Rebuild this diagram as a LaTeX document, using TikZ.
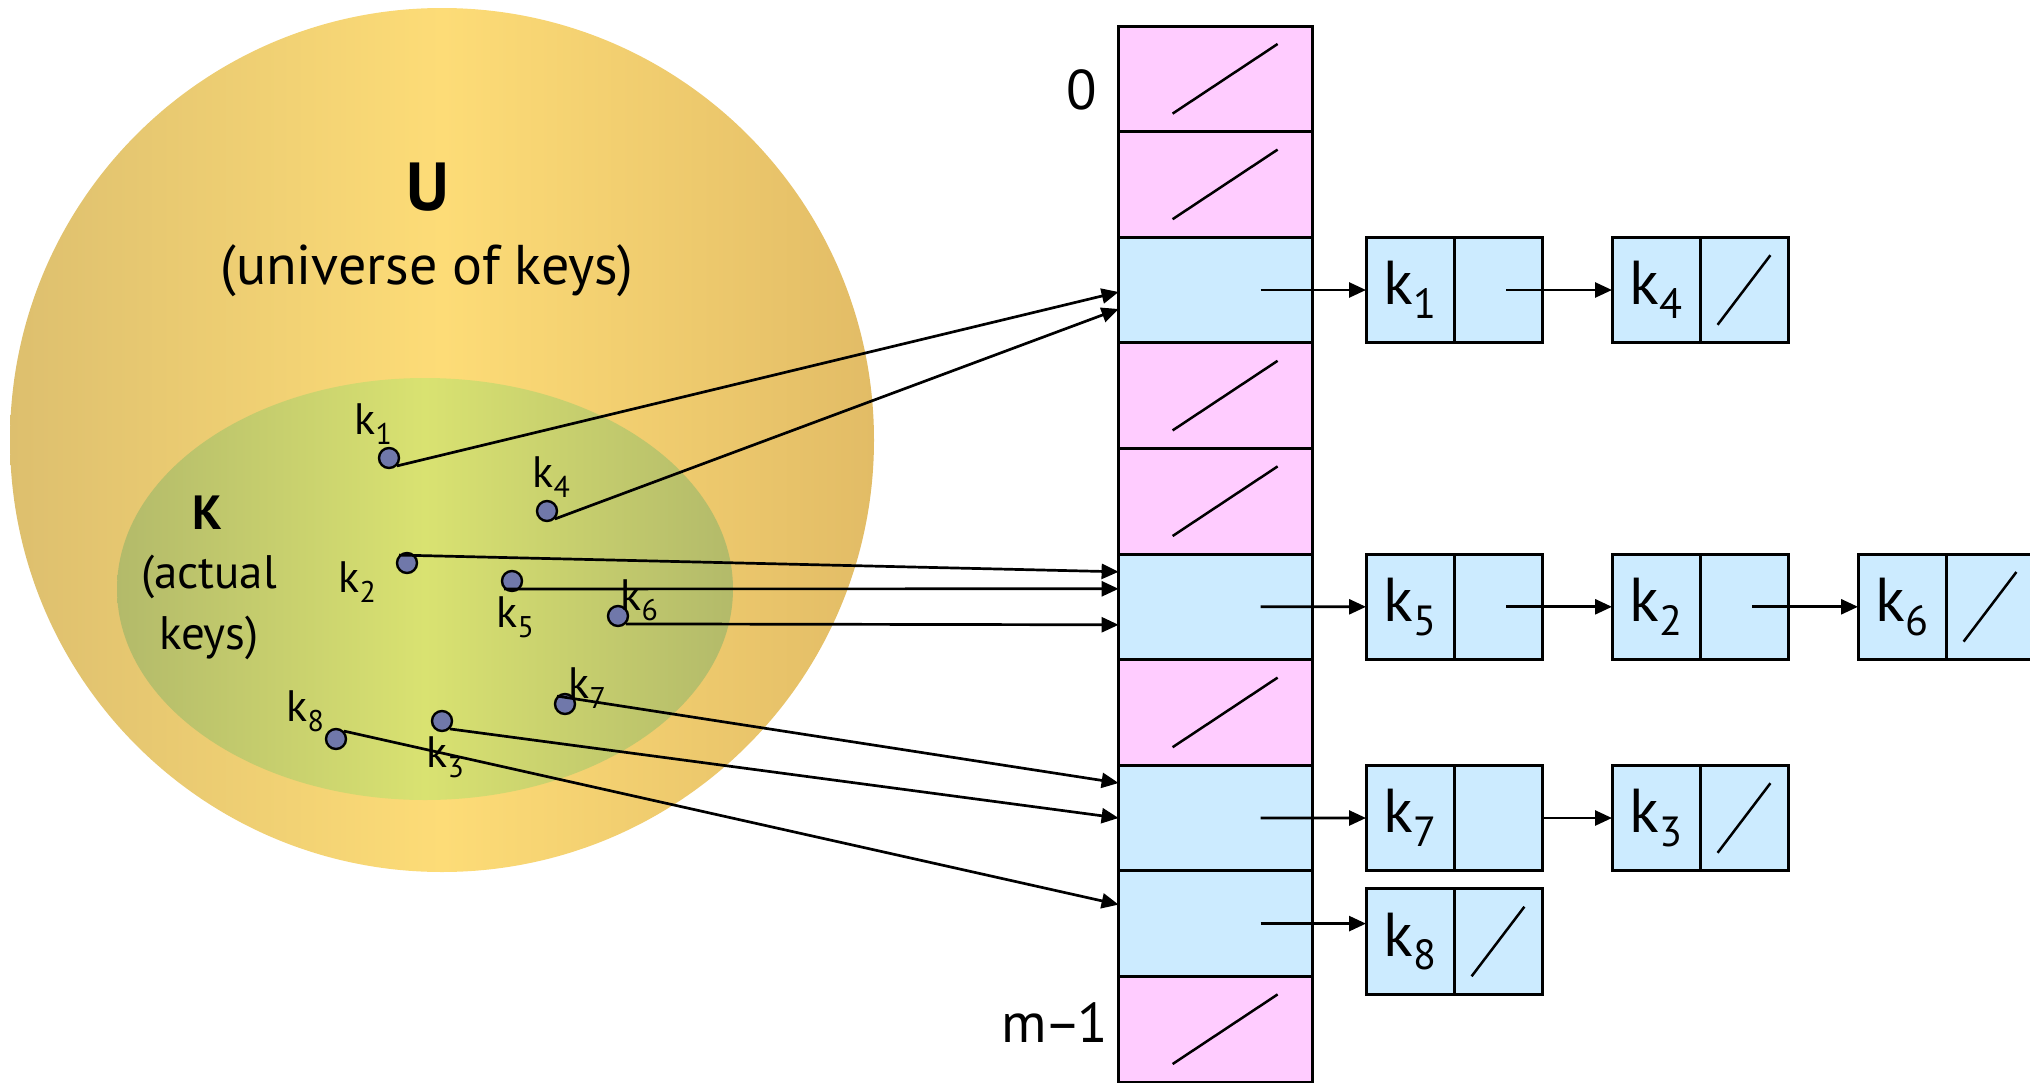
\documentclass[tikz,border=0pt]{standalone}
\usepackage{fontspec}
\setmainfont{PT Sans}
\usepackage{graphicx}
\usetikzlibrary{calc,positioning,arrows.meta}
\definecolor{slotpink}{HTML}{FFCCFF}
\definecolor{slotblue}{HTML}{CCEBFF}
\definecolor{keydot}{HTML}{7078AA}
\definecolor{univdark}{HTML}{DDBF6E}
\definecolor{univlight}{HTML}{FDDC77}
\definecolor{univright}{HTML}{E2BC66}
\definecolor{actdark}{HTML}{B3BA6A}
\definecolor{actlight}{HTML}{D9E271}
\newcommand{\keysub}[1]{k\kern0.01em\raisebox{-0.22em}{\scalebox{0.68}{#1}}}
\tikzset{
  slot/.style={draw,line width=3pt,minimum width=194pt,minimum height=105.6pt,
    inner sep=0pt,outer sep=0pt},
  emptyslot/.style={slot,fill=slotpink,path picture={
    \draw[line width=2.5pt] ($(path picture bounding box.south west)+(54,-18)$)
      -- ($(path picture bounding box.north west)+(159,18)$);}},
  fullslot/.style={slot,fill=slotblue},
  cell/.style={draw,line width=3pt,fill=slotblue,minimum width=88pt,
    minimum height=105.6pt,inner sep=0pt,outer sep=0pt,
    font=\fontsize{62}{66}\selectfont},
  nilcell/.style={cell,path picture={
    \draw[line width=2.5pt] ($(path picture bounding box.south west)+(17.6,-18)$)
      -- ($(path picture bounding box.north west)+(70.4,18)$);}},
  keypt/.style={circle,draw,line width=2.4pt,fill=keydot,minimum size=20pt,
    inner sep=0pt},
  keylbl/.style={inner sep=0pt,font=\fontsize{44}{46}\selectfont},
  link/.style={line width=2.7pt,-{Triangle[length=17pt,width=15pt]}}
}
\begin{document}
\begin{tikzpicture}[x=1pt,y=-1pt]
\useasboundingbox (0,0) rectangle (2030,1082);

\begin{scope}[y=1pt]
\shade[shading=axis,shading angle=90,left color=univdark,right color=univright,
  middle color=univlight] (442,-440) circle [radius=432pt];
\shade[shading=axis,shading angle=90,left color=actdark,right color=actdark,
  middle color=actlight] (425,-589) ellipse [x radius=308pt,y radius=211pt];
\end{scope}

\node[font=\fontsize{68}{72}\selectfont\bfseries] (ulbl) at (428,187) {U};
\node[font=\fontsize{56}{60}\selectfont] (udesc) at (427,271) {(universe of keys)};
\node[font=\fontsize{48}{52}\selectfont\bfseries] (klbl) at (207,513) {K};
\node[font=\fontsize{47}{61}\selectfont,align=center] (kdesc) at (209,607) {(actual\\keys)};

\node[keypt] (dk1) at (389,458) {};
\node[keypt] (dk2) at (407,563) {};
\node[keypt] (dk3) at (442,721) {};
\node[keypt] (dk4) at (547,511) {};
\node[keypt] (dk5) at (512,581) {};
\node[keypt] (dk6) at (618,616) {};
\node[keypt] (dk7) at (565,704) {};
\node[keypt] (dk8) at (336,739) {};

\node[keylbl] (lk1) at (373,424) {\keysub{1}};
\node[keylbl] (lk2) at (357,582) {\keysub{2}};
\node[keylbl] (lk3) at (445,757) {\keysub{3}};
\node[keylbl] (lk4) at (551,477) {\keysub{4}};
\node[keylbl] (lk5) at (515,617) {\keysub{5}};
\node[keylbl] (lk6) at (639,600) {\keysub{6}};
\node[keylbl] (lk7) at (587,688) {\keysub{7}};
\node[keylbl] (lk8) at (305,711) {\keysub{8}};

\foreach \i/\s in {0/emptyslot,1/emptyslot,2/fullslot,3/emptyslot,4/emptyslot,
                   5/fullslot,6/emptyslot,7/fullslot,8/fullslot,9/emptyslot}
  \node[\s] (t\i) at (1215.6,{78.8+105.6*\i}) {};

\node[font=\fontsize{56}{60}\selectfont] (zero) at (1082,90) {0};
\node[font=\fontsize{56}{60}\selectfont] (last) at (1055,1023) {m\kern-3pt–\kern-3pt1};

\node[cell] (k1) at (1410,290) {\keysub{1}};
\node[cell,right=0pt of k1] (k1p) {};
\node[cell] (k4) at (1656,290) {\keysub{4}};
\node[nilcell,right=0pt of k4] (k4p) {};

\node[cell] (k5) at (1410,606.8) {\keysub{5}};
\node[cell,right=0pt of k5] (k5p) {};
\node[cell] (k2) at (1656,606.8) {\keysub{2}};
\node[cell,right=0pt of k2] (k2p) {};
\node[cell] (k6) at (1902,606.8) {\keysub{6}};
\node[nilcell,right=0pt of k6] (k6p) {};

\node[cell] (k7) at (1410,818) {\keysub{7}};
\node[cell,right=0pt of k7] (k7p) {};
\node[cell] (k3) at (1656,818) {\keysub{3}};
\node[nilcell,right=0pt of k3] (k3p) {};

\node[cell] (k8) at (1410,941.5) {\keysub{8}};
\node[nilcell,right=0pt of k8] (k8p) {};

\draw[link] ($(t2.center)+(45,0)$) -- (k1.west);
\draw[link] ($(k1p.center)+(8,0)$) -- (k4.west);
\draw[link] ($(t5.center)+(45,0)$) -- (k5.west);
\draw[link] ($(k5p.center)+(8,0)$) -- (k2.west);
\draw[link] ($(k2p.center)+(8,0)$) -- (k6.west);
\draw[link] ($(t7.center)+(45,0)$) -- (k7.west);
\draw[link] (k7p.east) -- (k3.west);
\draw[link] ($(t8.center)+(45,0)$) -- (k8.west |- t8.center);

\draw[link] (dk1.south east) -- ($(t2.west)+(0,2)$);
\draw[link] (dk4.south east) -- ($(t2.west)+(0,19)$);
\draw[link] (dk2.north west) -- ($(t5.west)+(0,-35)$);
\draw[link] (dk5.south west) -- ($(t5.west)+(0,-18)$);
\draw[link] (dk6.south east) -- ($(t5.west)+(0,18)$);
\draw[link] (dk7.north west) -- ($(t7.west)+(0,-35)$);
\draw[link] (dk3.south east) -- (t7.west);
\draw[link] (dk8.north east) -- ($(t8.west)+(0,-19)$);
\end{tikzpicture}
\end{document}
